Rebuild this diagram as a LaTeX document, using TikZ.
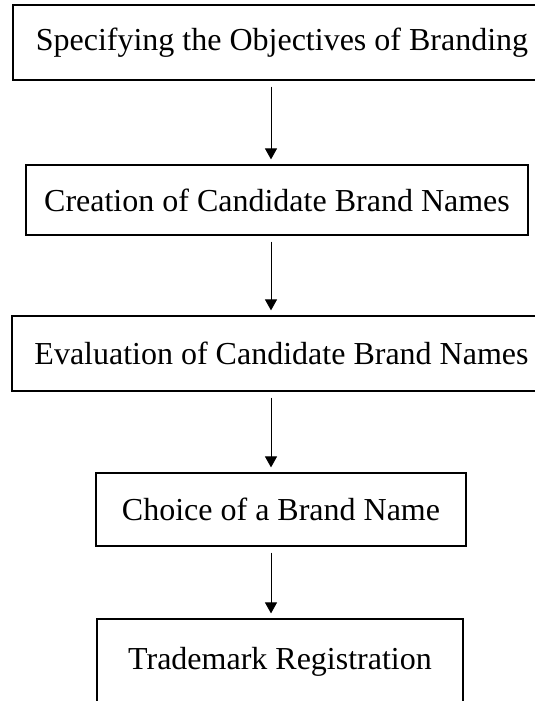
\documentclass[tikz,border=0pt]{standalone}
\usepackage{fontspec}
\setmainfont{Liberation Serif}
\usetikzlibrary{arrows.meta,positioning,calc}
\tikzset{  stage/.style={draw,line width=1.2pt,rectangle,inner sep=0pt,font=\fontsize{32}{38}\selectfont} }
\tikzset{  flow/.style={-{Triangle[width=12pt,length=11pt]},line width=1pt,shorten <=6pt,shorten >=5pt} }

\begin{document}
\begin{tikzpicture}[x=1pt,y=-1pt]
   \useasboundingbox (0,0) rectangle (535,701);
   \clip (0,0) rectangle (535,701);
   \node[stage,minimum width=547pt,minimum height=75pt] (obj) at (286.5,42.5) {\hspace*{-9pt}Specifying the Objectives of Branding};
   \node[stage,minimum width=502pt,minimum height=70pt] (cre) at (277,200) {Creation of Candidate Brand Names};
   \node[stage,minimum width=548pt,minimum height=75pt] (eva) at (286,353.5) {\hspace*{-9pt}Evaluation of Candidate Brand Names};
   \node[stage,minimum width=370pt,minimum height=73pt] (cho) at (281,509.5) {Choice of a Brand Name};
   \node[stage,minimum width=366pt,minimum height=86pt] (reg) at (280,662) {Trademark Registration};
   \coordinate (col) at (271,0);
   \draw[flow] (obj.south -| col) -- (cre.north -| col);
   \draw[flow] (cre.south -| col) -- (eva.north -| col);
   \draw[flow] (eva.south -| col) -- (cho.north -| col);
   \draw[flow] (cho.south -| col) -- (reg.north -| col);
  \end{tikzpicture}
\end{document}
